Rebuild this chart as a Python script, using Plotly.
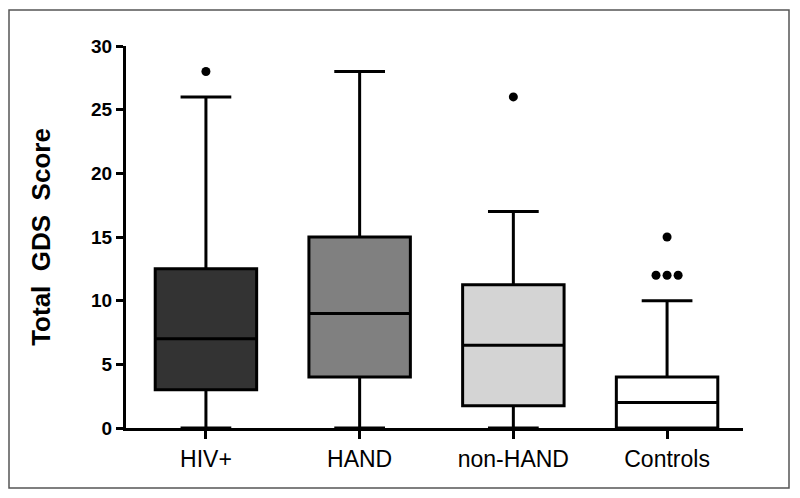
import plotly.graph_objects as go

# ---- data ----
groups = ["HIV+", "HAND", "non-HAND", "Controls"]
lower_whisker = [0, 0, 0, 0]
q1 = [3, 4, 1.75, 0]
median = [7, 9, 6.5, 2]
q3 = [12.5, 15, 11.25, 4]
upper_whisker = [26, 28, 17, 10]
fill_colors = ["#333333", "#808080", "#d4d4d4", "#ffffff"]

outlier_group = ["HIV+", "non-HAND", "Controls", "Controls", "Controls", "Controls"]
outlier_value = [28, 26, 15, 12, 12, 12]

y_ticks = [0, 5, 10, 15, 20, 25, 30]

# ---- layout constants (page body has an 8px margin at top/left) ----
OFF = 8
W, H = 800 - OFF, 498 - OFF
ML, MR, MT, MB = 126 - OFF, 57, 46 - OFF, 70

fig = go.Figure()
for i, g in enumerate(groups):
    fig.add_trace(go.Box(
        x=[i], q1=[q1[i]], median=[median[i]], q3=[q3[i]],
        lowerfence=[lower_whisker[i]], upperfence=[upper_whisker[i]],
        width=0.66, whiskerwidth=0.5,
        fillcolor=fill_colors[i],
        line=dict(color="black", width=3),
        boxpoints=False, name=g, showlegend=False, hoverinfo="skip",
    ))

# spread duplicate outliers side by side
ox, oy = [], []
for g in groups:
    vals = [v for gg, v in zip(outlier_group, outlier_value) if gg == g]
    counts = {}
    for v in vals:
        counts[v] = counts.get(v, 0) + 1
    for v, n in counts.items():
        for k in range(n):
            ox.append(groups.index(g) + (k - (n - 1) / 2) * 0.072)
            oy.append(v)
fig.add_trace(go.Scatter(x=ox, y=oy, mode="markers",
                         marker=dict(color="black", size=9),
                         showlegend=False, hoverinfo="skip"))

pw = W - ML - MR
ph = H - MT - MB
# frame in figure pixels (page pixels minus body offset)
frame_l, frame_r, frame_t, frame_b = 9 - OFF, 789 - OFF, 10 - OFF, 488 - OFF
fig.add_shape(type="rect", xref="paper", yref="paper",
              x0=(frame_l - ML) / pw, x1=(frame_r - ML) / pw,
              y0=(H - MB - frame_b) / ph, y1=(H - MB - frame_t) / ph,
              line=dict(color="#555555", width=1.5), layer="below")

fig.update_layout(
    width=W, height=H,
    margin=dict(l=ML, r=MR, t=MT, b=MB, pad=0),
    plot_bgcolor="white", paper_bgcolor="white",
    font=dict(family="Liberation Sans, Arial, sans-serif", color="black"),
    xaxis=dict(range=[-0.52, 3.494], tickvals=list(range(len(groups))),
               ticktext=groups, showgrid=False, zeroline=False,
               showline=True, linecolor="black", linewidth=3,
               ticks="outside", ticklen=8, tickwidth=2.5, tickcolor="black",
               tickfont=dict(size=23, family="Liberation Sans, Arial, sans-serif"),
               fixedrange=True),
    yaxis=dict(range=[0, 30], tickvals=y_ticks, showgrid=False, zeroline=False,
               showline=True, linecolor="black", linewidth=3,
               ticks="outside", ticklen=7, tickwidth=2.5, tickcolor="black",
               tickfont=dict(size=19, family="Liberation Sans, Arial, sans-serif", weight="bold"),
               title=dict(text="Total  GDS  Score", standoff=33,
                          font=dict(size=26, weight="bold")),
               fixedrange=True),
)

fig.write_html("out.html")
